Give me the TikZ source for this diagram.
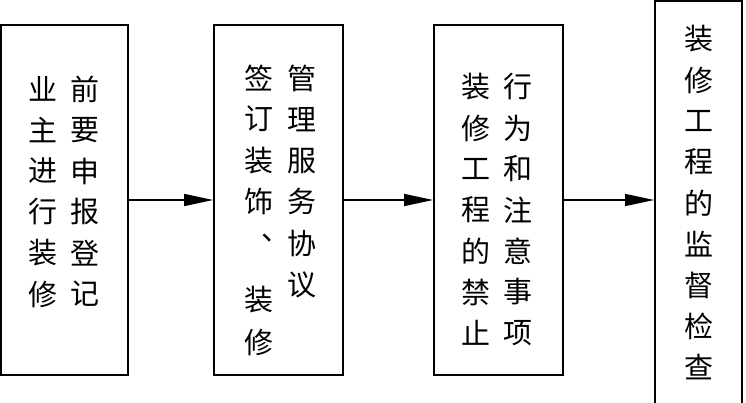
\documentclass[tikz,border=0pt]{standalone}
\usepackage{fontspec}
\newfontfamily\cjk{Noto Sans CJK SC}
\usetikzlibrary{arrows.meta}
\tikzset{
  box/.style={draw, line width=1.7pt, minimum width=#1, inner sep=0pt},
  ch/.style={font=\cjk\fontsize{29pt}{29pt}\selectfont, inner sep=0pt, anchor=center},
  flow/.style={line width=1.3pt, -{Triangle[length=29pt,width=12pt]}}
}
\begin{document}
\begin{tikzpicture}[x=1pt,y=-1pt]
\useasboundingbox (0,0) rectangle (746,403);
% boxes
\node[box=127pt, minimum height=350pt] (box1) at (64.5,200) {};
\node[box=129pt, minimum height=350pt] (box2) at (278.5,200) {};
\node[box=129pt, minimum height=350pt] (box3) at (498.5,200) {};
\node[box=87pt, minimum height=430pt] (box4) at (698.5,216) {};
% box 1 text
\foreach \c [count=\i] in {业,主,进,行,装,修}
  \node[ch] (ta\i) at (43,{89+41*(\i-1)}) {\c};
\foreach \c [count=\i] in {前,要,申,报,登,记}
  \node[ch] (tb\i) at (85,{89+41*(\i-1)}) {\c};
% box 2 text
\node[ch] (tc1) at (259,78) {签};
\node[ch] (tc2) at (259,119) {订};
\node[ch] (tc3) at (259,161) {装};
\node[ch] (tc4) at (259,201) {饰};
\node[ch] (tc5) at (276,238) {、};
\node[ch] (tc6) at (259,300) {装};
\node[ch] (tc7) at (259,342) {修};
\foreach \c [count=\i] in {管,理,服,务,协,议}
  \node[ch] (td\i) at (302,{78+41.3*(\i-1)}) {\c};
% box 3 text
\foreach \c [count=\i] in {装,修,工,程,的,禁,止}
  \node[ch] (te\i) at (476,{87+41*(\i-1)}) {\c};
\foreach \c [count=\i] in {行,为,和,注,意,事,项}
  \node[ch] (tf\i) at (518,{87+41*(\i-1)}) {\c};
% box 4 text
\foreach \c [count=\i] in {装,修,工,程,的,监,督,检,查}
  \node[ch] (tg\i) at (698.5,{39+41*(\i-1)}) {\c};
% connectors
\draw[flow] (box1.east) -- (box2.west);
\draw[flow] (box2.east) -- (box3.west);
\draw[flow] (box3.east) -- (box3.east -| box4.west);
\end{tikzpicture}
\end{document}
